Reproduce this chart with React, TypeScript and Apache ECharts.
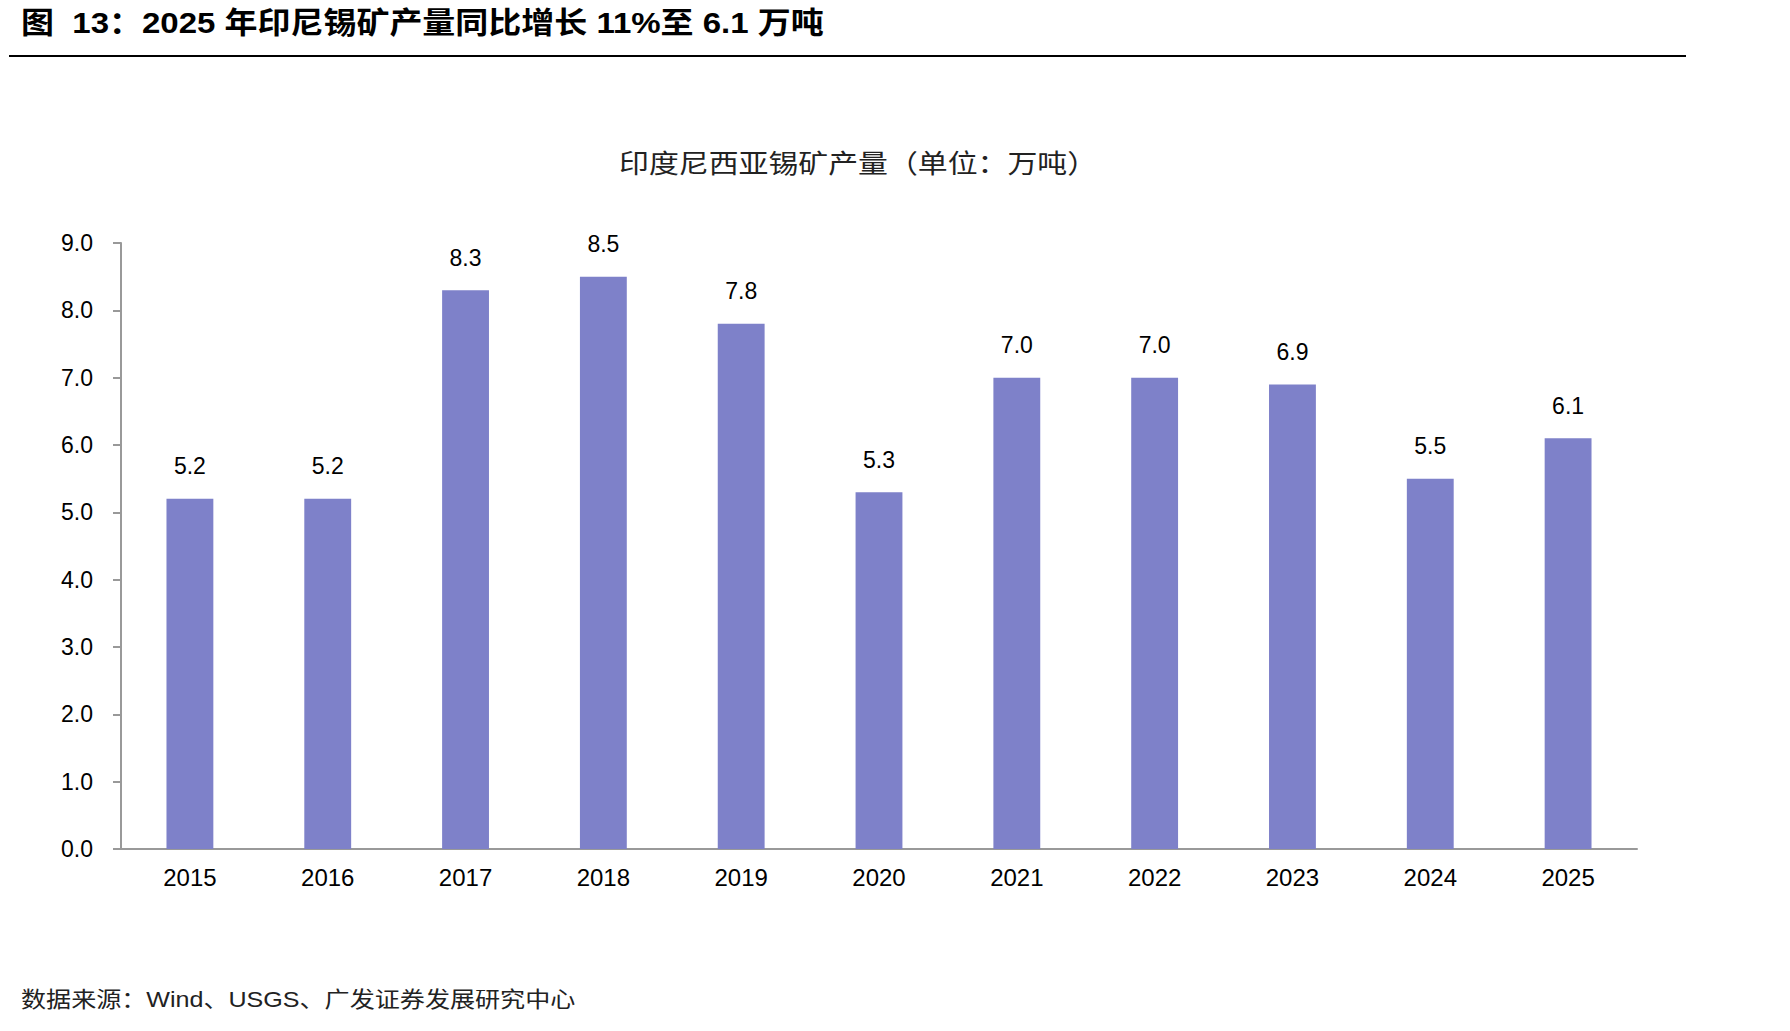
import React, { useEffect, useRef } from "react";
import * as echarts from "echarts";

const years = ["2015", "2016", "2017", "2018", "2019", "2020", "2021", "2022", "2023", "2024", "2025"];
const production = [5.2, 5.2, 8.3, 8.5, 7.8, 5.3, 7.0, 7.0, 6.9, 5.5, 6.1];

const FONT = "'Liberation Sans', Arial, 'Noto Sans CJK SC', sans-serif";

export default function App() {
  const ref = useRef<HTMLDivElement>(null);
  useEffect(() => {
    if (!ref.current) return;
    const chart = echarts.init(ref.current, undefined, { renderer: "svg" });
    chart.setOption({
      animation: false,
      backgroundColor: "#ffffff",
      textStyle: { fontFamily: FONT },
      graphic: [
        {
          type: "text",
          x: 21,
          y: 23,
          scaleX: 1.1,
          style: {
            text: "图  13：2025 年印尼锡矿产量同比增长 11%至 6.1 万吨",
            fontSize: 30,
            fontWeight: "bold",
            fill: "#000",
            fontFamily: FONT,
            align: "left",
            verticalAlign: "middle",
          },
        },
        {
          type: "rect",
          shape: { x: 9, y: 55, width: 1677, height: 2 },
          style: { fill: "#000" },
        },
        {
          type: "text",
          x: 619,
          y: 164,
          scaleX: 1.15,
          style: {
            text: "印度尼西亚锡矿产量（单位：万吨）",
            fontSize: 26,
            fill: "#222",
            fontFamily: FONT,
            align: "left",
            verticalAlign: "middle",
          },
        },
        {
          type: "text",
          x: 21,
          y: 1000,
          scaleX: 1.14,
          style: {
            text: "数据来源：Wind、USGS、广发证券发展研究中心",
            fontSize: 22,
            fill: "#222",
            fontFamily: FONT,
            align: "left",
            verticalAlign: "middle",
          },
        },
      ],
      grid: { left: 121, right: 153, top: 243, bottom: 182 },
      xAxis: {
        type: "category",
        data: years,
        axisLine: { show: true, lineStyle: { color: "#999", width: 2 } },
        axisTick: { show: false },
        axisLabel: { color: "#000", fontSize: 24, margin: 16, fontFamily: FONT },
      },
      yAxis: {
        type: "value",
        min: 0,
        max: 9,
        interval: 1,
        splitLine: { show: false },
        axisLine: { show: true, lineStyle: { color: "#999", width: 2 } },
        axisTick: { show: true, inside: false, length: 8, lineStyle: { color: "#999", width: 2 } },
        axisLabel: {
          color: "#000",
          fontSize: 23,
          margin: 28,
          fontFamily: FONT,
          formatter: (v: number) => v.toFixed(1),
        },
      },
      series: [
        {
          type: "bar",
          data: production,
          barWidth: "34%",
          itemStyle: { color: "#7E81C9" },
          label: {
            show: true,
            position: "top",
            distance: 21,
            color: "#000",
            fontSize: 23,
            fontFamily: FONT,
            formatter: (p: any) => Number(p.value).toFixed(1),
          },
        },
      ],
    });
    return () => chart.dispose();
  }, []);
  return (
    <div
      ref={ref}
      style={{ position: "fixed", left: 0, top: 0, width: 1790, height: 1031, background: "#fff" }}
    />
  );
}
